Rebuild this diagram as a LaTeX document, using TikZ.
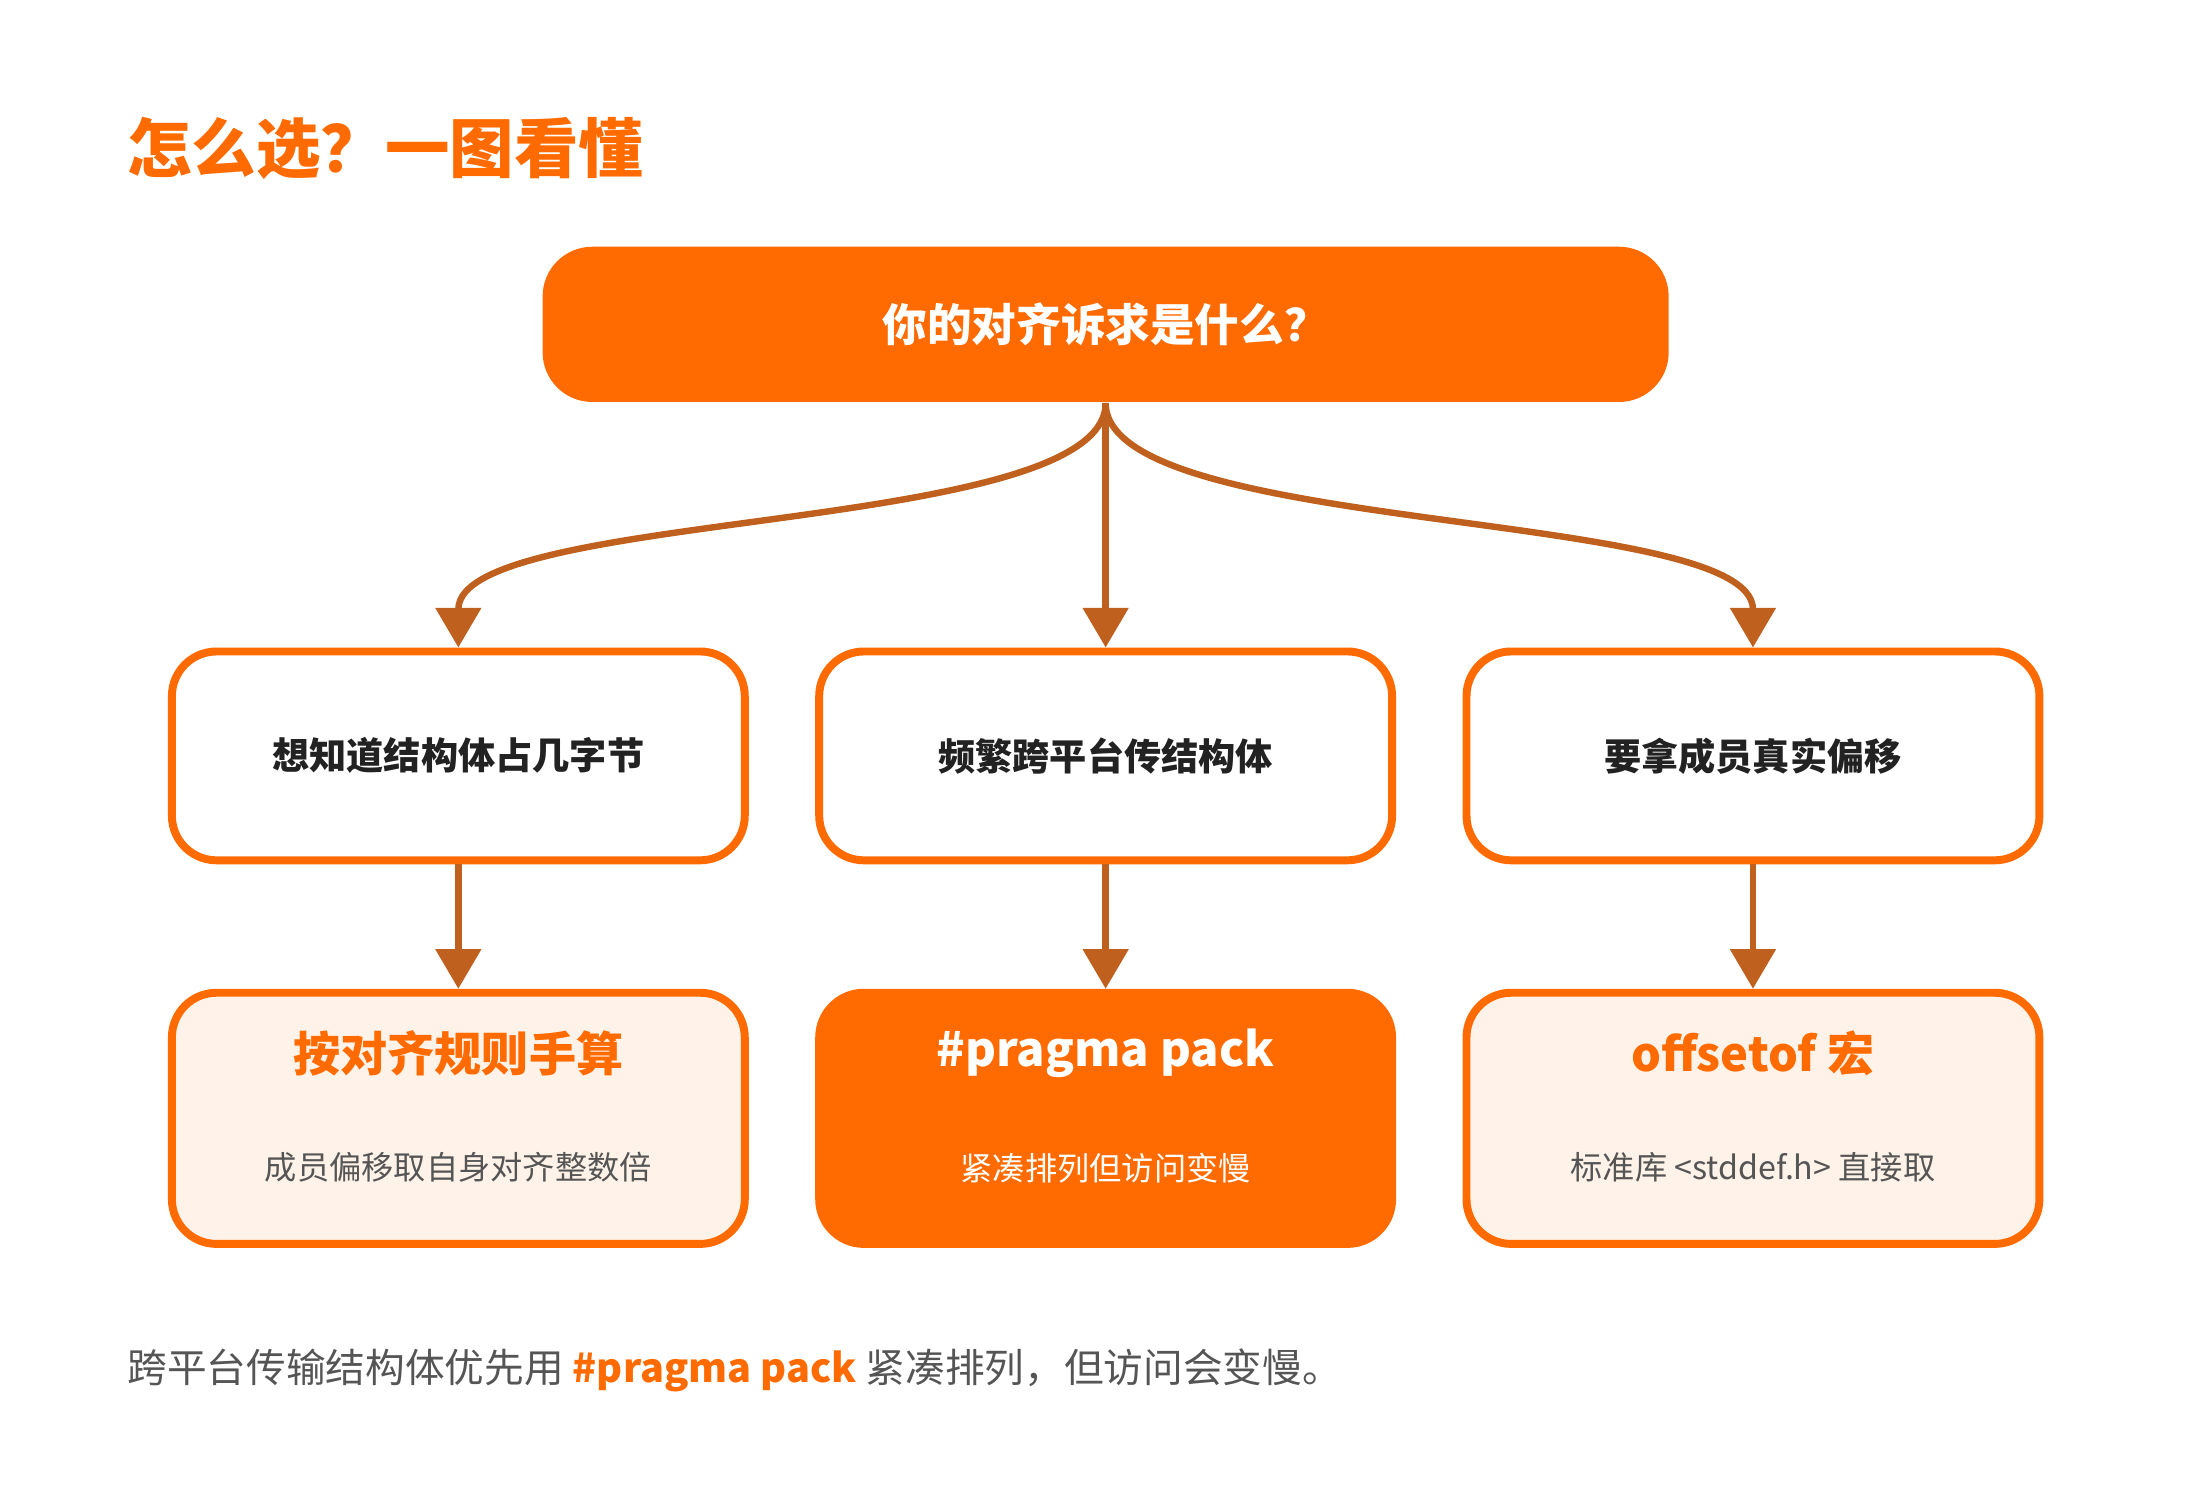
\documentclass[tikz,border=0pt]{standalone}
\usepackage{fontspec}
\setmainfont{Noto Sans CJK SC}
\usetikzlibrary{arrows.meta}
\definecolor{brand}{HTML}{FF6B00}
\definecolor{pale}{HTML}{FFF3E9}
\definecolor{link}{HTML}{C0601E}
\definecolor{ink}{HTML}{222222}
\definecolor{grey}{HTML}{555555}
\tikzset{
  box/.style={draw=brand, line width=1.6pt, rounded corners=9pt, minimum width=4.06cm, minimum height=1.48cm, fill=white},
  result/.style={box, minimum height=1.78cm, fill=pale},
  link/.style={draw=link, line width=1.3pt, -{Triangle[length=8pt,width=9pt]}}
}
\begin{document}
\begin{tikzpicture}[x=0.01cm,y=-0.01cm]

    \useasboundingbox (0,0) rectangle (1560,1055);
    \node[anchor=west, text=brand, font=\bfseries\fontsize{13}{15}\selectfont] (title) at (78,105) {怎么选？一图看懂};

    \node[fill=brand, rounded corners=10pt, minimum width=7.98cm, minimum height=1.1cm, text=white, font=\bfseries\fontsize{9}{11}\selectfont] (ask) at (784,230) {你的对齐诉求是什么？};

    \node[box, font=\bfseries\fontsize{7.5}{9}\selectfont, text=ink] (needSize) at (325,536) {想知道结构体占几字节};
    \node[box, font=\bfseries\fontsize{7.5}{9}\selectfont, text=ink] (needWire) at (784,536) {频繁跨平台传结构体};
    \node[box, font=\bfseries\fontsize{7.5}{9}\selectfont, text=ink] (needOffset) at (1243,536) {要拿成员真实偏移};

    \node[result] (byHand) at (325,793) {};
    \node[result, fill=brand, draw=brand] (pack) at (784,793) {};
    \node[result] (offsetof) at (1243,793) {};

    \node[text=brand, font=\bfseries\fontsize{9.5}{11}\selectfont] at (325,747) {按对齐规则手算};
    \node[text=grey, font=\fontsize{6.5}{8}\selectfont] at (325,828) {成员偏移取自身对齐整数倍};
    \node[text=white, font=\bfseries\fontsize{9.5}{11}\selectfont] at (784,747) {\#pragma pack};
    \node[text=white, font=\fontsize{6.5}{8}\selectfont] at (784,828) {紧凑排列但访问变慢};
    \node[text=brand, font=\bfseries\fontsize{9.5}{11}\selectfont] at (1243,747) {offsetof 宏};
    \node[text=grey, font=\fontsize{6.5}{8}\selectfont] at (1243,828) {标准库 <stddef.h> 直接取};

    \draw[link] (ask.south) .. controls (784,380) and (325,360) .. (needSize.north);
    \draw[link] (ask.south) -- (needWire.north);
    \draw[link] (ask.south) .. controls (784,380) and (1243,360) .. (needOffset.north);

    \draw[link] (needSize) -- (byHand);
    \draw[link] (needWire) -- (pack);
    \draw[link] (needOffset) -- (offsetof);

    \node[anchor=west, text=grey, font=\fontsize{8}{10}\selectfont] (note) at (78,972) {跨平台传输结构体优先用 \textcolor{brand}{\bfseries\#pragma pack} 紧凑排列，但访问会变慢。};
\end{tikzpicture}
\end{document}
